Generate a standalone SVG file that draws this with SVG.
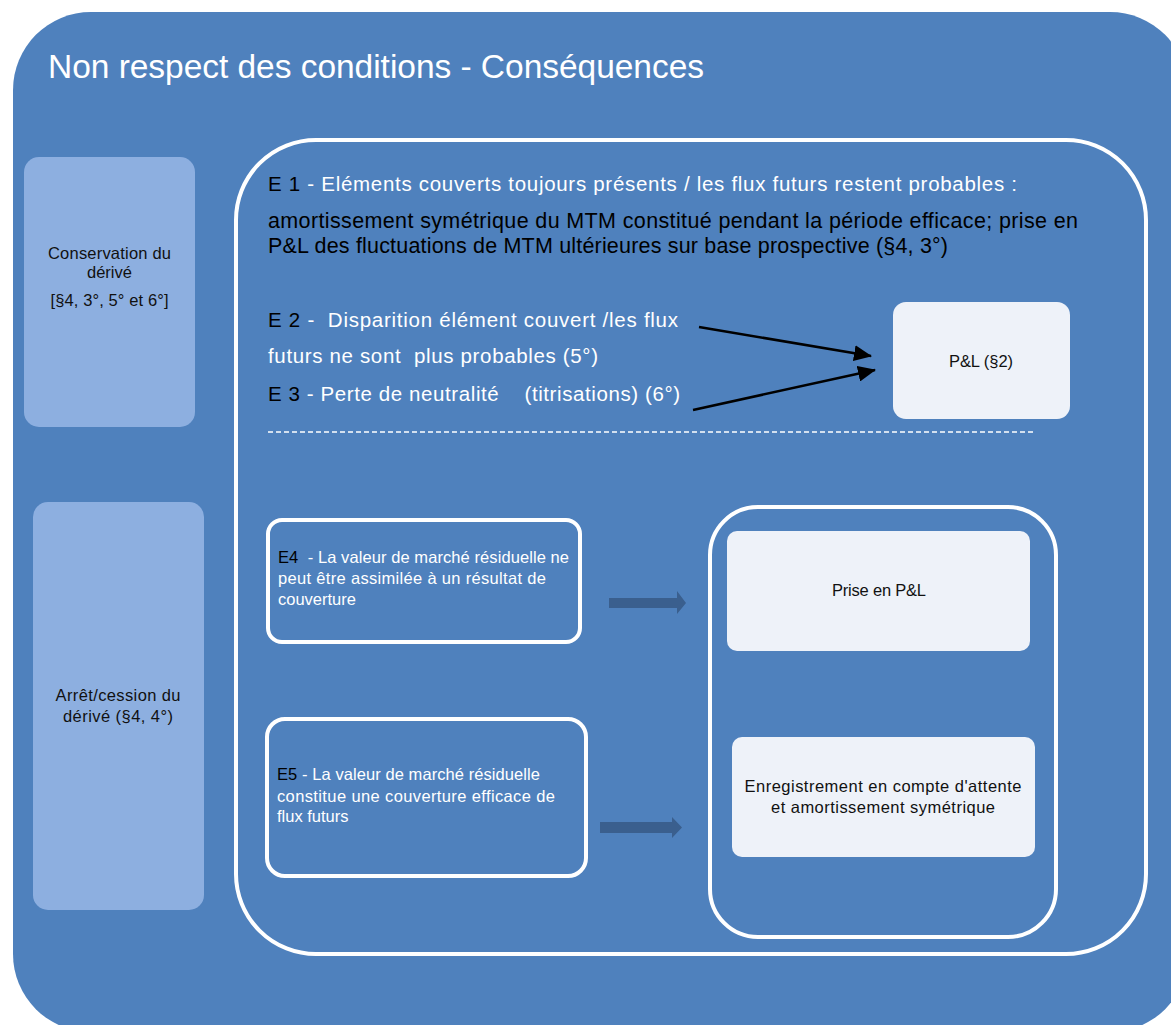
<svg xmlns="http://www.w3.org/2000/svg" width="1171" height="1025" viewBox="0 0 1171 1025">
<defs>
<style>
.t{font-family:"Liberation Sans",Arial,sans-serif;}
.s{font-family:"Liberation Sans",Arial,sans-serif;font-size:16.5px;}
.w{fill:#ffffff;}
.k{fill:#000000;}
.d{fill:#111111;}
.pre{white-space:pre;}
.side{fill:#8DAFE0;}
.pale{fill:#EEF2F9;}
.frame{fill:none;stroke:#ffffff;stroke-width:4;}
.blk{fill:#3A5F8E;}
</style>
<marker id="ah" markerUnits="userSpaceOnUse" markerWidth="18" markerHeight="16" refX="17" refY="8" orient="auto">
<path d="M0,0 L18,8 L0,16 z" fill="#000"/>
</marker>
</defs>
<rect width="1171" height="1025" fill="#ffffff"/>
<g id="background">
<rect x="13" y="12" width="1175" height="1020" rx="78" ry="78" fill="#4F81BD"/>
<text class="t w" x="48" y="78" font-size="33.5" textLength="656">Non respect des conditions - Conséquences</text>
</g>
<g id="inner-frame">
<rect class="frame" x="236" y="140" width="910" height="814" rx="80" ry="80"/>
</g>
<g id="conservation">
<rect class="side" x="24" y="157" width="171" height="270" rx="15"/>
<text class="s d" text-anchor="middle"><tspan x="109.5" y="259" textLength="123">Conservation du</tspan><tspan x="109.5" y="278">dérivé</tspan><tspan x="109.5" y="306" textLength="118">[§4, 3°, 5° et 6°]</tspan></text>
</g>
<g id="arret">
<rect class="side" x="33" y="502" width="171" height="408" rx="15"/>
<text class="s d" text-anchor="middle"><tspan x="118" y="701" textLength="125">Arrêt/cession du</tspan><tspan x="118" y="722" textLength="110">dérivé (§4, 4°)</tspan></text>
</g>
<g id="e1">
<text class="t w" x="268" y="191" font-size="20.5" textLength="749"><tspan class="k">E 1</tspan> - Eléments couverts toujours présents / les flux futurs restent probables :</text>
<text class="t k" x="268" y="228" font-size="21.5" textLength="810">amortissement symétrique du MTM constitué pendant la période efficace; prise en</text>
<text class="t k" x="268" y="253" font-size="21.5" textLength="680">P&amp;L des fluctuations de MTM ultérieures sur base prospective (§4, 3°)</text>
</g>
<g id="e2">
<text class="t w pre" x="268" y="327" font-size="20.5" textLength="410"><tspan class="k">E 2</tspan> -  Disparition élément couvert /les flux</text>
<text class="t w pre" x="268" y="363" font-size="20.5" textLength="330">futurs ne sont  plus probables (5°)</text>
</g>
<g id="e3">
<text class="t w pre" x="268" y="401" font-size="20.5" textLength="412"><tspan class="k">E 3</tspan> - Perte de neutralité    (titrisations) (6°)</text>
</g>
<g id="separator">
<line x1="268" y1="432" x2="1033" y2="432" stroke="#ffffff" stroke-width="1.3" stroke-dasharray="5,3"/>
</g>
<g id="pl">
<rect class="pale" x="893" y="302" width="177" height="117" rx="13"/>
<text class="s d" x="981" y="367" text-anchor="middle" textLength="64">P&amp;L (§2)</text>
</g>
<g id="e4">
<rect class="frame" x="268" y="520" width="312" height="122" rx="14"/>
<text class="s w pre"><tspan x="278" y="563" textLength="291"><tspan class="k">E4</tspan>  - La valeur de marché résiduelle ne</tspan><tspan x="278" y="584" textLength="268">peut être assimilée à un résultat de</tspan><tspan x="278" y="605">couverture</tspan></text>
</g>
<g id="e5">
<rect class="frame" x="267" y="719" width="319" height="157" rx="18"/>
<text class="s w pre"><tspan x="277" y="780" textLength="263"><tspan class="k">E5</tspan> - La valeur de marché résiduelle</tspan><tspan x="277" y="802" textLength="278">constitue une couverture efficace de</tspan><tspan x="277" y="822">flux futurs</tspan></text>
</g>
<g id="right-frame">
<rect class="frame" x="710" y="507" width="346" height="430" rx="48"/>
</g>
<g id="prise">
<rect class="pale" x="727" y="531" width="303" height="120" rx="10"/>
<text class="s d" x="879" y="596" text-anchor="middle" textLength="94">Prise en P&amp;L</text>
</g>
<g id="enregistrement">
<rect class="pale" x="732" y="737" width="303" height="120" rx="10"/>
<text class="s d" text-anchor="middle"><tspan x="883" y="792" textLength="277">Enregistrement en compte d'attente</tspan><tspan x="883" y="813" textLength="224">et amortissement symétrique</tspan></text>
</g>
<g id="connectors">
<line x1="699" y1="327" x2="871" y2="356" stroke="#000" stroke-width="2.5" marker-end="url(#ah)"/>
<line x1="693" y1="410" x2="875" y2="370" stroke="#000" stroke-width="2.5" marker-end="url(#ah)"/>
<path class="blk" d="M609,598 L677,598 L677,591 L686,603 L677,614 L677,608 L609,608 z"/>
<path class="blk" d="M600,822 L672,822 L672,817 L682,827.5 L672,838 L672,833 L600,833 z"/>
</g>
</svg>
